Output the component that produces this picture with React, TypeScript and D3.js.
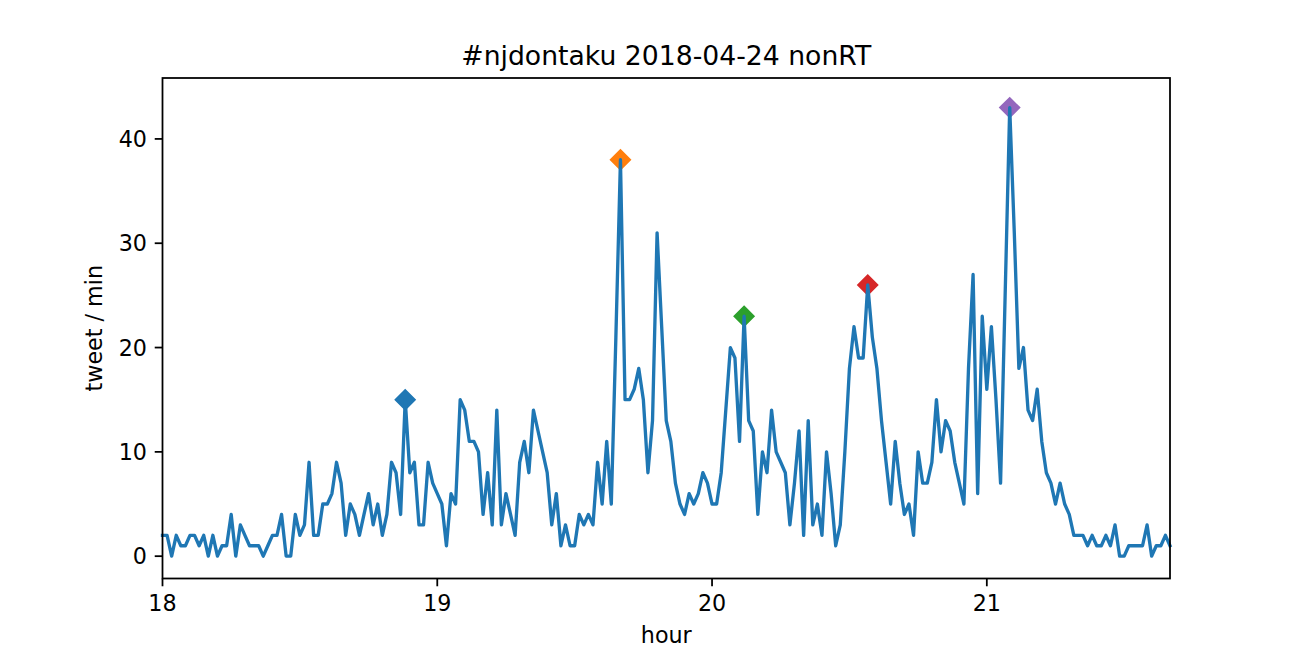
import React from 'react';
import * as d3 from 'd3';

// tweets per minute, one value per minute starting at 18:00
const tweets = [
  2, 2, 0, 2, 1, 1, 2, 2, 1, 2,
  0, 2, 0, 1, 1, 4, 0, 3, 2, 1,
  1, 1, 0, 1, 2, 2, 4, 0, 0, 4,
  2, 3, 9, 2, 2, 5, 5, 6, 9, 7,
  2, 5, 4, 2, 4, 6, 3, 5, 2, 4,
  9, 8, 4, 15, 8, 9, 3, 3, 9, 7,
  6, 5, 1, 6, 5, 15, 14, 11, 11, 10,
  4, 8, 3, 14, 3, 6, 4, 2, 9, 11,
  8, 14, 12, 10, 8, 3, 6, 1, 3, 1,
  1, 4, 3, 4, 3, 9, 5, 11, 5, 21,
  38, 15, 15, 16, 18, 15, 8, 13, 31, 22,
  13, 11, 7, 5, 4, 6, 5, 6, 8, 7,
  5, 5, 8, 14, 20, 19, 11, 23, 13, 12,
  4, 10, 8, 14, 10, 9, 8, 3, 7, 12,
  2, 13, 3, 5, 2, 10, 6, 1, 3, 10,
  18, 22, 19, 19, 26, 21, 18, 13, 9, 5,
  11, 7, 4, 5, 2, 10, 7, 7, 9, 15,
  10, 13, 12, 9, 7, 5, 18, 27, 6, 23,
  16, 22, 15, 7, 25, 43, 31, 18, 20, 14,
  13, 16, 11, 8, 7, 5, 7, 5, 4, 2,
  2, 2, 1, 2, 1, 1, 2, 1, 3, 0,
  0, 1, 1, 1, 1, 3, 0, 1, 1, 2,
  1,
];

const startHour = 18;
const peakMinutes = [53, 100, 127, 154, 185];
const peakColors = ['#1f77b4', '#ff7f0e', '#2ca02c', '#d62728', '#9467bd'];
const xTicks = [18, 19, 20, 21];
const yTicks = [0, 10, 20, 30, 40];
const yLimits = [-2.14, 45.84]; // axis limits

const title = '#njdontaku 2018-04-24 nonRT';
const xLabel = 'hour';
const yLabel = 'tweet / min';

const W = 1300;
const H = 650;
const left = 162.5;
const right = 1170;
const top = 78;
const bottom = 578.5;
const pt = 160 / 72; // px per point
const font = '"DejaVu Sans", sans-serif';

export default function App() {
  const points = tweets.map((v, i) => ({ h: startHour + i / 60, v }));

  const x = d3.scaleLinear()
    .domain([startHour, startHour + (tweets.length - 1) / 60])
    .range([left, right]);
  const y = d3.scaleLinear()
    .domain(yLimits)
    .range([bottom, top]);

  const line = d3.line<{ h: number; v: number }>()
    .x(d => x(d.h))
    .y(d => y(d.v));

  const diamond = d3.symbol(d3.symbolSquare, (6 * pt) ** 2)() || '';
  const tickLen = 3.5 * pt;
  const tickFont = 10 * pt;

  return (
    <svg
      width={W}
      height={H}
      style={{ position: 'absolute', left: 0, top: 0, background: '#fff' }}
      fontFamily={font}
    >
      {/* peak markers (behind the line, like scatter zorder 1) */}
      {peakMinutes.map((m, i) => (
        <path
          key={`peak-${m}`}
          d={diamond}
          transform={`translate(${x(points[m].h)},${y(points[m].v)}) rotate(45)`}
          fill={peakColors[i]}
          stroke={peakColors[i]}
          strokeWidth={1 * pt}
        />
      ))}

      {/* series */}
      <path
        d={line(points) || ''}
        fill="none"
        stroke="#1f77b4"
        strokeWidth={1.5 * pt}
        strokeLinejoin="round"
        strokeLinecap="square"
      />

      {/* spines */}
      <rect
        x={left}
        y={top}
        width={right - left}
        height={bottom - top}
        fill="none"
        stroke="#000"
        strokeWidth={0.8 * pt}
      />

      {/* x ticks */}
      {xTicks.map(t => (
        <g key={`xt-${t}`}>
          <line x1={x(t)} x2={x(t)} y1={bottom} y2={bottom + tickLen} stroke="#000" strokeWidth={0.8 * pt} />
          <text x={x(t)} y={bottom + 2 * tickLen + 0.76 * tickFont} fontSize={tickFont} textAnchor="middle" fill="#000">
            {t}
          </text>
        </g>
      ))}

      {/* y ticks */}
      {yTicks.map(t => (
        <g key={`yt-${t}`}>
          <line x1={left - tickLen} x2={left} y1={y(t)} y2={y(t)} stroke="#000" strokeWidth={0.8 * pt} />
          <text x={left - 2 * tickLen} y={y(t) + 0.36 * tickFont} fontSize={tickFont} textAnchor="end" fill="#000">
            {t}
          </text>
        </g>
      ))}

      {/* labels */}
      <text x={(left + right) / 2} y={643} fontSize={tickFont} textAnchor="middle" fill="#000">
        {xLabel}
      </text>
      <text
        transform={`translate(102,${(top + bottom) / 2}) rotate(-90)`}
        fontSize={tickFont}
        textAnchor="middle"
        fill="#000"
      >
        {yLabel}
      </text>
      <text x={(left + right) / 2} y={top - 6 * pt} fontSize={12 * pt} textAnchor="middle" fill="#000">
        {title}
      </text>
    </svg>
  );
}
